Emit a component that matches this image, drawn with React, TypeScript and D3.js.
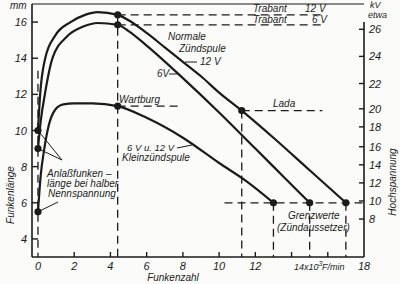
import React from "react";
import * as d3 from "d3";

// ---- data ----
const xTicks = [0, 2, 4, 6, 8, 10, 12, 14, 16, 18];
const xTickLabels = ["0", "2", "4", "6", "8", "10", "12", "", "", "18"];
const mmTicks = [4, 6, 8, 10, 12, 14, 16];
const kvLabels = [8, 10, 12, 14, 16, 18, 20, 22, 24, 26];
const kvAtMm = [5.1, 6.1, 7.1, 8.1, 9.1, 10.2, 11.2, 12.6, 14.1, 15.6];

// Normale Zündspule 12 V
const coil12V: [number, number][] = [
  [0, 10], [0.12, 12], [0.4, 14], [0.95, 15.25], [1.8, 16], [2.6, 16.4], [3.3, 16.55], [4.4, 16.4],
  [5, 16.1], [6, 15.4], [7, 14.6], [8, 13.8], [9, 13.0], [10, 12.1], [11.25, 11.1], [13, 9.6], [15, 7.8], [17, 6],
];
// Normale Zündspule 6 V
const coil6V: [number, number][] = [
  [0, 9], [0.15, 10.5], [0.38, 12], [0.8, 14], [1.6, 15.2], [2.5, 15.75], [3.3, 15.95], [4.4, 15.85],
  [5, 15.5], [6, 14.7], [8, 12.9], [10, 11.0], [12, 9.0], [13.5, 7.5], [15, 6],
];
// Kleinzündspule 6 V u. 12 V
const smallCoil: [number, number][] = [
  [0, 5.5], [0.15, 7.5], [0.35, 9], [0.6, 10.3], [0.95, 11.15], [1.4, 11.45], [2, 11.5], [3, 11.5], [4.4, 11.35],
  [6, 10.7], [8, 9.6], [10, 8.2], [11.5, 7.2], [13, 6],
];
const markedPoints: [number, number][] = [
  [0, 10], [0, 9], [0, 5.5], [4.4, 16.4], [4.4, 15.85], [4.4, 11.35], [11.25, 11.1], [13, 6], [15, 6], [17, 6],
];
// reference dashed lines: [x1, y1, x2, y2] in data units
const refLines: [number, number, number, number][] = [
  [0, 13.3, 0, 3],
  [4.4, 16.4, 4.4, 3],
  [4.4, 16.4, 15.85, 16.4],
  [4.4, 15.85, 15.85, 15.85],
  [4.4, 11.35, 7.85, 11.35],
  [11.25, 11.1, 11.25, 3],
  [11.25, 11.1, 15.7, 11.1],
  [10.3, 6, 18, 6],
  [13, 6, 13, 3],
  [15, 6, 15, 3],
  [17, 6, 17, 3],
];

const W = 400, H = 284;
const x = d3.scaleLinear().domain([-0.33, 18]).range([32, 364]);
const y = d3.scaleLinear().domain([3, 17]).range([257, 4]);

const FONT = "'Liberation Sans', Arial, sans-serif";
const INK = "#1b1b1b";

export default function App() {
  const line = d3
    .line<[number, number]>()
    .x((d) => x(d[0]))
    .y((d) => y(d[1]))
    .curve(d3.curveMonotoneX);

  const t = (props: any, s: string, key?: string) => (
    <text key={key} fontFamily={FONT} fontStyle="italic" fill={INK} {...props}>
      {s}
    </text>
  );

  return (
    <svg
      width={W}
      height={H}
      viewBox={`0 0 ${W} ${H}`}
      style={{ position: "absolute", left: 0, top: 0, background: "#fbfbfa" }}
    >
      {/* frame */}
      <line x1={x.range()[0]} x2={x.range()[0]} y1={y.range()[1]} y2={y.range()[0]} stroke={INK} strokeWidth={1.6} />
      <line x1={x.range()[0]} x2={x.range()[1]} y1={y.range()[0]} y2={y.range()[0]} stroke={INK} strokeWidth={1.6} />
      <line x1={x.range()[0]} x2={x.range()[1]} y1={y.range()[1]} y2={y.range()[1]} stroke={INK} strokeWidth={1.2} />
      <line x1={x.range()[1]} x2={x.range()[1]} y1={y(16)} y2={y.range()[0]} stroke={INK} strokeWidth={1.6} />

      {/* left ticks */}
      {mmTicks.map((v) => (
        <g key={"m" + v}>
          <line x1={x.range()[0]} x2={x.range()[0] + 6} y1={y(v)} y2={y(v)} stroke={INK} strokeWidth={1.4} />
          {t({ x: 27, y: y(v) + 4, fontSize: 11, textAnchor: "end" }, String(v))}
        </g>
      ))}
      {t({ x: 10, y: 9, fontSize: 10 }, "mm")}

      {/* right ticks (kV) */}
      {kvLabels.map((v, i) => (
        <g key={"k" + v}>
          <line x1={x.range()[1] - 5} x2={x.range()[1]} y1={y(kvAtMm[i])} y2={y(kvAtMm[i])} stroke={INK} strokeWidth={1.4} />
          {t({ x: 369, y: y(kvAtMm[i]) + 4, fontSize: 11 }, String(v))}
        </g>
      ))}
      {t({ x: 370, y: 8, fontSize: 9 }, "kV")}
      {t({ x: 368, y: 18, fontSize: 9 }, "etwa")}

      {/* bottom ticks */}
      {xTicks.map((v, i) => (
        <g key={"x" + v}>
          {v > 0 && v < 18 && (
            <line x1={x(v)} x2={x(v)} y1={y.range()[0]} y2={y.range()[0] - 5} stroke={INK} strokeWidth={1.4} />
          )}
          {xTickLabels[i] && t({ x: x(v), y: 270, fontSize: 11, textAnchor: "middle" }, xTickLabels[i])}
        </g>
      ))}
      <text x={294} y={270} fontFamily={FONT} fontStyle="italic" fontSize={9} fill={INK}>
        14x10<tspan dy={-4} fontSize={7}>3</tspan>
      </text>
      {t({ x: 322, y: 270, fontSize: 9 }, "F/min")}

      {/* axis titles */}
      {t({ transform: "translate(14,195) rotate(-90)", fontSize: 10, textAnchor: "middle" }, "Funkenlänge")}
      {t({ x: 173, y: 281, fontSize: 10, textAnchor: "middle" }, "Funkenzahl")}
      {t({ transform: "translate(396,182) rotate(-90)", fontSize: 10, textAnchor: "middle" }, "Hochspannung")}

      {/* dashed reference lines */}
      {refLines.map((l, i) => (
        <line
          key={"r" + i}
          x1={x(l[0])}
          y1={y(l[1])}
          x2={x(l[2])}
          y2={y(l[3])}
          stroke={INK}
          strokeWidth={1.3}
          strokeDasharray="8,5"
        />
      ))}

      {/* curves */}
      {[coil12V, coil6V, smallCoil].map((s, i) => (
        <path key={"c" + i} d={line(s) || ""} fill="none" stroke={INK} strokeWidth={2.2} />
      ))}

      {/* points */}
      {markedPoints.map((p, i) => (
        <circle key={"p" + i} cx={x(p[0])} cy={y(p[1])} r={3.6} fill={INK} />
      ))}

      {/* annotations */}
      {t({ x: 168, y: 40, fontSize: 10 }, "Normale")}
      {t({ x: 179, y: 52, fontSize: 10 }, "Zündspule")}
      <line x1={185} x2={197} y1={62} y2={62} stroke={INK} strokeWidth={1} />
      {t({ x: 200, y: 65, fontSize: 10 }, "12 V")}
      {t({ x: 157, y: 77, fontSize: 10 }, "6V")}
      <line x1={169} x2={178} y1={74} y2={74} stroke={INK} strokeWidth={1} />
      {t({ x: 119, y: 103, fontSize: 10 }, "Wartburg")}
      {t({ x: 253, y: 12, fontSize: 10 }, "Trabant")}
      {t({ x: 305, y: 12, fontSize: 10 }, "12 V")}
      {t({ x: 253, y: 23, fontSize: 10 }, "Trabant")}
      {t({ x: 312, y: 23, fontSize: 10 }, "6 V")}
      {t({ x: 273, y: 107, fontSize: 10 }, "Lada")}
      {t({ x: 127, y: 151, fontSize: 9.5 }, "6 V u. 12 V")}
      <line x1={177} x2={192} y1={148} y2={145} stroke={INK} strokeWidth={1} />
      {t({ x: 122, y: 161, fontSize: 10 }, "Kleinzündspule")}
      {t({ x: 47, y: 177, fontSize: 10 }, "Anlaßfunken –")}
      {t({ x: 47, y: 187, fontSize: 10 }, "länge bei halber")}
      {t({ x: 48, y: 197, fontSize: 10 }, "Nennspannung")}
      <line x1={x(0)} y1={y(10)} x2={62} y2={160} stroke={INK} strokeWidth={1} />
      <line x1={x(0)} y1={y(9)} x2={62} y2={160} stroke={INK} strokeWidth={1} />
      <line x1={x(0)} y1={y(5.5)} x2={58} y2={202} stroke={INK} strokeWidth={1} />
      {t({ x: 288, y: 219, fontSize: 10 }, "Grenzwerte")}
      {t({ x: 277, y: 231, fontSize: 10 }, "(Zündaussetzer)")}
    </svg>
  );
}
